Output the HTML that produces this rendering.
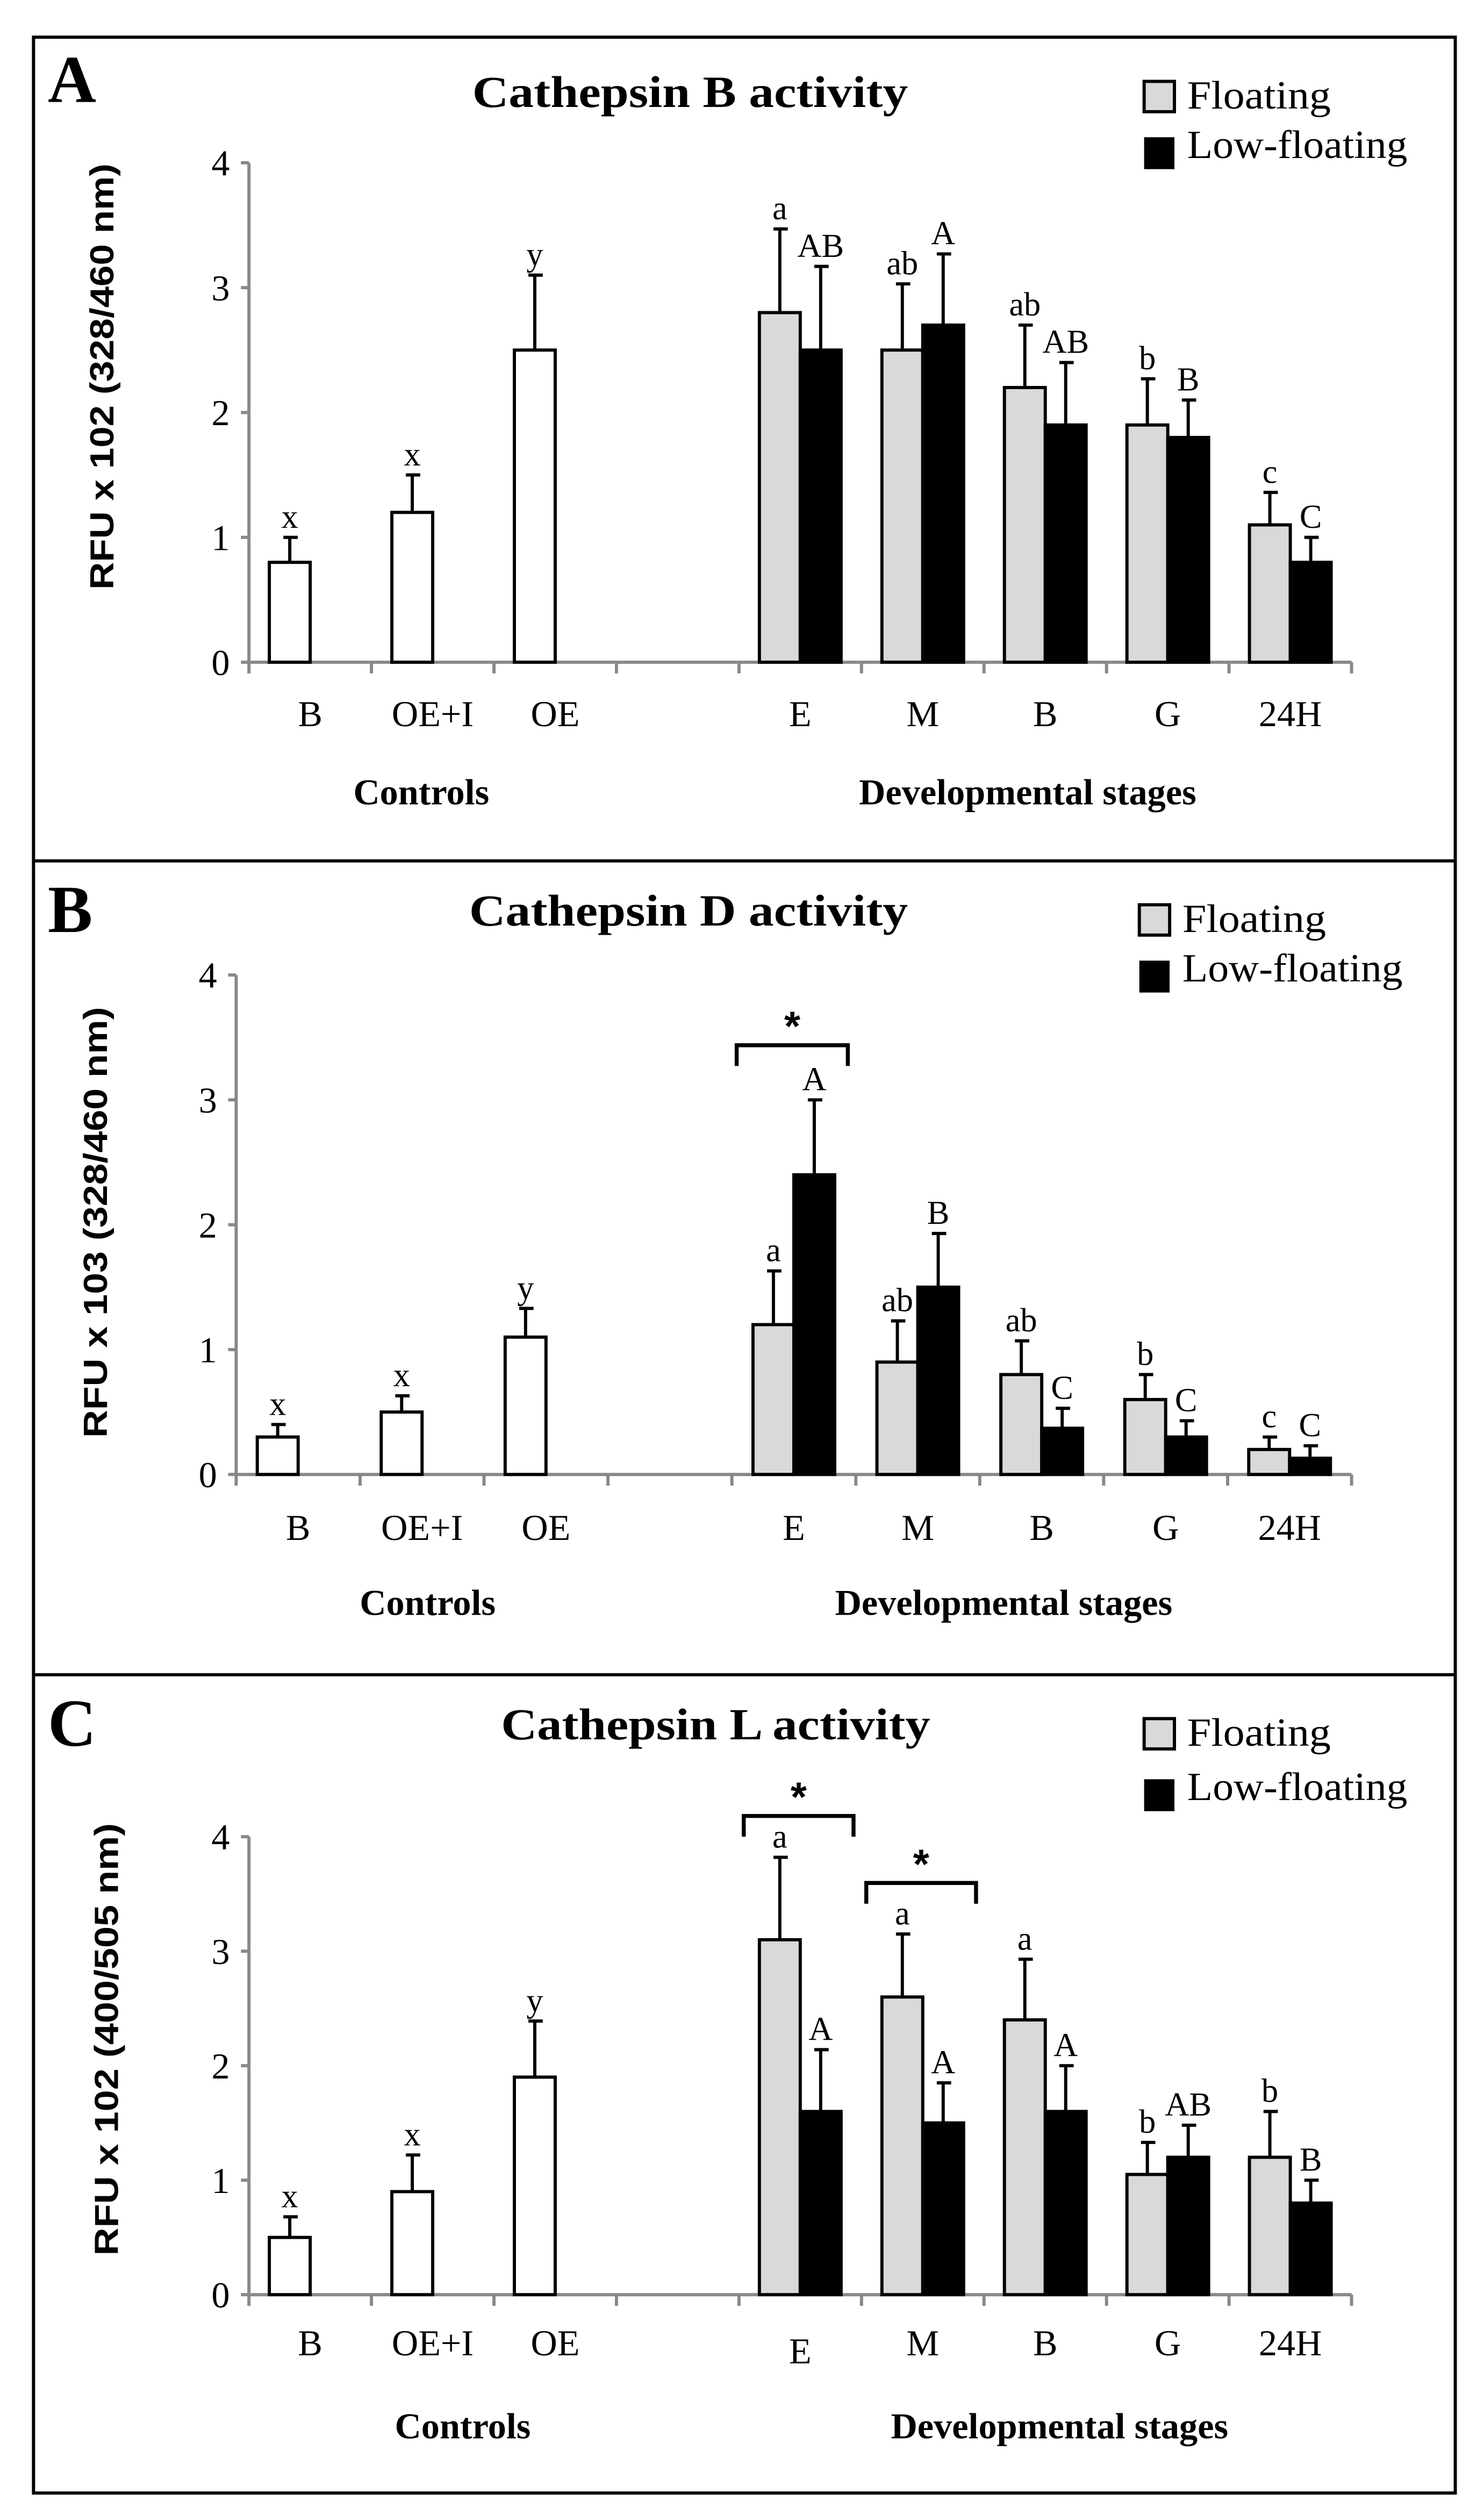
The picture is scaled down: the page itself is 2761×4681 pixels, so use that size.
<!DOCTYPE html>
<html><head><meta charset="utf-8">
<style>
html,body{margin:0;padding:0;background:#fff;}
svg{display:block;}
text{font-family:"Liberation Serif",serif;}
</style></head>
<body>
<svg id="fig" width="2761" height="4681" viewBox="0 0 930 1576.7" preserveAspectRatio="none" xmlns="http://www.w3.org/2000/svg">
<rect x="0" y="0" width="930" height="1576.7" fill="#fff"/>
<g id="frames" fill="none" stroke="#000" stroke-width="2">
<rect x="21" y="23.3" width="891" height="1539" />
<line x1="21" y1="539.5" x2="912" y2="539.5"/>
<line x1="21" y1="1049.5" x2="912" y2="1049.5"/>
</g>
</svg>
<script>
// ===== Shared categories =====
const controlCats = ["B", "OE+I", "OE"];
const stageCats = ["E", "M", "B", "G", "24H"];
const yTicks = [0, 1, 2, 3, 4];

// ===== Panel A: Cathepsin B =====
const aControls = [0.8, 1.2, 2.5];
const aControlsErr = [0.2, 0.3, 0.6];
const aControlsLetters = ["x", "x", "y"];
const aFloating = [2.8, 2.5, 2.2, 1.9, 1.1];
const aFloatingErr = [0.67, 0.53, 0.5, 0.37, 0.26];
const aFloatingLetters = ["a", "ab", "ab", "b", "c"];
const aLow = [2.5, 2.7, 1.9, 1.8, 0.8];
const aLowErr = [0.67, 0.57, 0.5, 0.3, 0.2];
const aLowLetters = ["AB", "A", "AB", "B", "C"];
const aBrackets = [];

// ===== Panel B: Cathepsin D =====
const bControls = [0.3, 0.5, 1.1];
const bControlsErr = [0.1, 0.13, 0.23];
const bControlsLetters = ["x", "x", "y"];
const bFloating = [1.2, 0.9, 0.8, 0.6, 0.2];
const bFloatingErr = [0.43, 0.33, 0.27, 0.2, 0.1];
const bFloatingLetters = ["a", "ab", "ab", "b", "c"];
const bLow = [2.4, 1.5, 0.37, 0.3, 0.13];
const bLowErr = [0.6, 0.43, 0.16, 0.13, 0.1];
const bLowLetters = ["A", "B", "C", "C", "C"];
const bBrackets = [0];

// ===== Panel C: Cathepsin L =====
const cControls = [0.5, 0.9, 1.9];
const cControlsErr = [0.18, 0.32, 0.49];
const cControlsLetters = ["x", "x", "y"];
const cFloating = [3.1, 2.6, 2.4, 1.05, 1.2];
const cFloatingErr = [0.72, 0.55, 0.53, 0.28, 0.4];
const cFloatingLetters = ["a", "a", "a", "b", "b"];
const cLow = [1.6, 1.5, 1.6, 1.2, 0.8];
const cLowErr = [0.54, 0.35, 0.4, 0.28, 0.2];
const cLowLetters = ["A", "A", "A", "AB", "B"];
const cBrackets = [0, 1];

const NS = "http://www.w3.org/2000/svg";
const svg = document.getElementById("fig");

function mk(tag, attrs, parent, txt) {
  const e = document.createElementNS(NS, tag);
  for (const k in attrs) e.setAttribute(k, attrs[k]);
  if (txt !== undefined) e.textContent = txt;
  parent.appendChild(e);
  return e;
}

function drawPanel(p) {
  const g = mk("g", {}, svg);
  
  
  const x0 = p.axisX, x1 = 847, y0 = p.y0, y4 = p.y4;
  const nCat = 9;
  const cw = (x1 - x0) / nCat;
  const yScale = v => y0 + (y4 - y0) * v / 4;
  const catCenter = i => x0 + cw * (i + 0.5);
  const bw = 25.6;

  const pl = mk("text", {x: 30, y: p.letterY, "font-size": 42, "font-weight": "bold"}, g, p.letter);
  
  
  const t = mk("text", {x: p.titleX, y: p.titleY, "font-size": 28, "font-weight": "bold", textLength: p.titleW, lengthAdjust: "spacingAndGlyphs"}, g, p.title);
  
  

  const lg = mk("g", {}, g);
  
  
  const l1 = mk("rect", {x: p.legX, y: p.leg1Y, width: 19, height: 19, fill: "#d9d9d9", stroke: "#000", "stroke-width": 2}, lg);
  
  
  const lt1 = mk("text", {x: p.legX + 27, y: p.leg1Y + 17, "font-size": 25, textLength: 90, lengthAdjust: "spacingAndGlyphs"}, lg, "Floating");
  
  
  const l2 = mk("rect", {x: p.legX, y: p.leg2Y, width: 19, height: 20, fill: "#000"}, lg);
  
  
  const lt2 = mk("text", {x: p.legX + 27, y: p.leg2Y + 13, "font-size": 25, textLength: 138, lengthAdjust: "spacingAndGlyphs"}, lg, "Low-floating");
  
  

  const ax = mk("g", {stroke: "#888", "stroke-width": 2}, g);
  
  
  mk("line", {x1: x0, y1: y0, x2: x0, y2: y4}, ax);
  mk("line", {x1: x0, y1: y0, x2: x1, y2: y0}, ax);
  yTicks.forEach(v => {
    mk("line", {x1: x0 - 5, y1: yScale(v), x2: x0, y2: yScale(v)}, ax);
    const tl = mk("text", {x: x0 - 12, y: yScale(v) + 8, "font-size": 23, "text-anchor": "end", fill: "#000", stroke: "none"}, g, String(v));
    
    
  });
  for (let i = 0; i <= nCat; i++) {
    mk("line", {x1: x0 + cw * i, y1: y0, x2: x0 + cw * i, y2: y0 + 7}, ax);
  }
  const yl = mk("text", {x: 0, y: 0, "font-size": 21, "font-weight": "bold", "text-anchor": "middle",
    style: 'font-family:"Liberation Sans",sans-serif', textLength: p.yLabW, lengthAdjust: "spacingAndGlyphs",
    transform: "translate(" + (p.yLabX + 7) + "," + p.yLabY + ") rotate(-90)"}, g, p.yLabel);
  
  

  const cats = controlCats.concat([""], stageCats);
  cats.forEach((c, i) => {
    if (!c) return;
    const yy = p.catY + (p.eLow && c === "E" && i === 4 ? 5 : 0);
    const cl = mk("text", {x: catCenter(i), y: yy, "font-size": 23, "text-anchor": "middle"}, g, c);
    
    
  });
  const gc = mk("text", {x: p.ctrlX, y: p.grpY, "font-size": 23, "font-weight": "bold", "text-anchor": "middle"}, g, "Controls");
  
  
  const gd = mk("text", {x: p.devX, y: p.grpY, "font-size": 23, "font-weight": "bold", "text-anchor": "middle"}, g, "Developmental stages");
  
  

  function bar(cx, left, v, err, letter, fill, stroke, name) {
    const top = yScale(v);
    const r = mk("rect", {x: left, y: top, width: bw, height: y0 - top, fill: fill, stroke: stroke, "stroke-width": 2}, g);
    
    
    const et = yScale(v + err);
    const eb = mk("path", {d: "M" + cx + " " + top + "V" + et + "M" + (cx - 4) + " " + et + "H" + (cx + 5), stroke: "#000", "stroke-width": 2, fill: "none"}, g);
    
    
    const lt = mk("text", {x: cx, y: et - 6, "font-size": 21, "text-anchor": "middle"}, g, letter);
    
    
  }
  p.ctrl.forEach((v, i) => {
    const c = catCenter(i);
    bar(c - bw / 2, c - bw, v, p.ctrlErr[i], p.ctrlLet[i], "#fff", "#000", "bar-control-" + i);
  });
  p.fl.forEach((v, j) => {
    const c = catCenter(j + 4);
    bar(c - bw / 2, c - bw, v, p.flErr[j], p.flLet[j], "#d9d9d9", "#000", "bar-floating-" + stageCats[j]);
    bar(c + bw / 2, c, p.low[j], p.lowErr[j], p.lowLet[j], "#000", "#000", "bar-low-floating-" + stageCats[j]);
  });
  p.brackets.forEach((j, k) => {
    const b = p.brk[k];
    const c = catCenter(j + 4);
    const bp = mk("path", {d: "M" + (c - cw / 2 + 3) + " " + (b + 13) + "V" + b + "H" + (c + cw / 2 - 5) + "V" + (b + 13), stroke: "#000", "stroke-width": 2.5, fill: "none"}, g);
    
    
    const st = mk("text", {x: c - 1, y: b - 3, "font-size": 26, "font-weight": "bold", "text-anchor": "middle", style: 'font-family:"Liberation Sans",sans-serif'}, g, "*");
    
    
  });
}

drawPanel({name: "panel-a-cathepsin-b", letter: "A", letterY: 64, title: "Cathepsin B activity", titleX: 296, titleY: 67, titleW: 273,
  legX: 717, leg1Y: 51, leg2Y: 86, axisX: 156, y0: 415, y4: 102,
  yLabel: "RFU x 102 (328/460 nm)", yLabX: 64, yLabY: 236, yLabW: 267,
  catY: 455, grpY: 504, ctrlX: 264, devX: 644,
  ctrl: aControls, ctrlErr: aControlsErr, ctrlLet: aControlsLetters,
  fl: aFloating, flErr: aFloatingErr, flLet: aFloatingLetters,
  low: aLow, lowErr: aLowErr, lowLet: aLowLetters, brackets: aBrackets, brk: []});

drawPanel({name: "panel-b-cathepsin-d", letter: "B", letterY: 584, title: "Cathepsin D activity", titleX: 294, titleY: 580, titleW: 275,
  legX: 714, leg1Y: 567, leg2Y: 602, axisX: 148, y0: 924, y4: 611,
  yLabel: "RFU x 103 (328/460 nm)", yLabX: 60, yLabY: 766, yLabW: 270,
  catY: 965, grpY: 1012, ctrlX: 268, devX: 629,
  ctrl: bControls, ctrlErr: bControlsErr, ctrlLet: bControlsLetters,
  fl: bFloating, flErr: bFloatingErr, flLet: bFloatingLetters,
  low: bLow, lowErr: bLowErr, lowLet: bLowLetters, brackets: bBrackets, brk: [655]});

drawPanel({name: "panel-c-cathepsin-l", letter: "C", letterY: 1094, title: "Cathepsin L activity", titleX: 314, titleY: 1090, titleW: 269,
  legX: 717, leg1Y: 1077, leg2Y: 1115, axisX: 156, y0: 1438, y4: 1151,
  yLabel: "RFU x 102 (400/505 nm)", yLabX: 67, yLabY: 1278, yLabW: 271,
  catY: 1476, grpY: 1528, ctrlX: 290, devX: 664, eLow: true,
  ctrl: cControls, ctrlErr: cControlsErr, ctrlLet: cControlsLetters,
  fl: cFloating, flErr: cFloatingErr, flLet: cFloatingLetters,
  low: cLow, lowErr: cLowErr, lowLet: cLowLetters, brackets: cBrackets, brk: [1138, 1180]});
</script>
</body></html>
